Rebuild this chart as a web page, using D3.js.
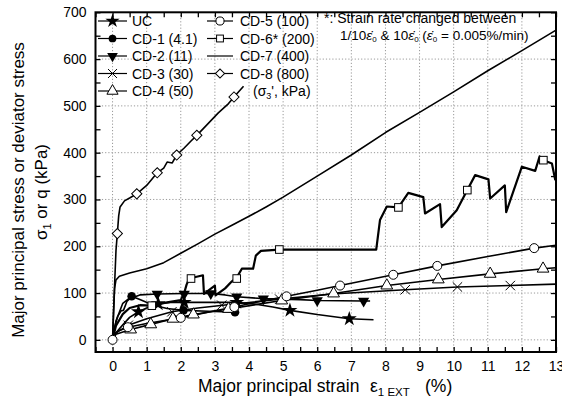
<!DOCTYPE html>
<html><head><meta charset="utf-8">
<script src="https://cdn.jsdelivr.net/npm/d3@7"></script>
<style>body{margin:0;background:#fff}svg{display:block}text{font-family:Arial,"Liberation Sans",sans-serif;fill:#000}</style>
</head><body><svg id="c" width="562" height="399"></svg>
<script>
const seriesNames = ["UC","CD-1 (4.1)","CD-2 (11)","CD-3 (30)","CD-4 (50)","CD-5 (100)","CD-6* (200)","CD-7 (400)","CD-8 (800)"];
const xTicks = [0,1,2,3,4,5,6,7,8,9,10,11,12,13];
const yTicks = [0,100,200,300,400,500,600,700];

const ucLine = [[0,0],[0.1,15],[0.3,32],[0.5,48],[0.76,60],[1.0,68],[1.34,77],[1.7,80],[2.1,80],[3.0,80],[3.64,80],[4.2,76],[4.7,70],[5.2,63],[6.0,54],[6.94,45],[7.65,43]];
const ucMk = [[0.76,60],[1.34,77],[2.1,80],[3.64,80],[5.2,63],[6.94,45]];
const cd1Line = [[0,0],[0.1,40],[0.3,78],[0.56,93],[0.8,86],[1.2,74],[1.6,67],[2.08,63],[2.8,61],[3.59,59],[3.7,60]];
const cd1Mk = [[0.56,93],[2.08,63],[3.59,59]];
const cd2Line = [[0,0],[0.05,25],[0.15,50],[0.25,62],[0.32,63],[0.42,82],[0.5,88],[0.8,96],[1.31,98],[2.1,99],[2.88,99],[3.3,96],[3.64,92],[4.42,88],[5.5,86],[6.0,84],[7.36,83],[7.55,83]];
const cd2Mk = [[1.31,98],[2.1,98],[2.88,99],[3.64,92],[4.42,88],[6.0,84],[7.36,83]];
const cd3Line = [[0,0],[0.1,15],[0.46,31],[1.0,45],[1.74,60],[2.5,68],[3.5,76],[4.9,87],[6.43,98],[8.58,107],[10.11,113],[11.66,116],[13,119]];
const cd3Mk = [[0.46,31],[1.74,60],[3.2,74],[4.9,87],[8.58,107],[10.11,113],[11.66,116]];
const cd4Line = [[0,0],[0.1,12],[0.53,22],[1.12,33],[1.77,45],[2.37,54],[3.4,66],[4.96,84],[6.48,99],[8.04,116],[9.55,129],[11.07,141],[12.62,152],[13,154]];
const cd4Mk = [[0.53,22],[1.12,33],[1.77,45],[2.37,54],[3.4,66],[4.96,84],[6.48,99],[8.04,116],[9.55,129],[11.07,141],[12.62,152]];
const cd5Line = [[0,0],[0.05,12],[0.2,20],[0.45,27],[1,35],[2,47],[3,62],[3.57,70],[4,77],[5.1,93],[6,106],[6.67,116],[8.23,139],[9.52,158],[11,178],[12.36,196],[13,202]];
const cd5Mk = [[0,0],[0.45,27],[2.0,47],[3.57,70],[5.1,93],[6.67,116],[8.23,139],[9.52,158],[12.36,196]];
const cd6Line = [[0,0],[0.1,30],[0.3,55],[0.5,68],[0.8,74],[1.15,73],[1.6,80],[2.0,85],[2.1,100],[2.17,118],[2.25,131],[2.65,138],[2.68,98],[3.0,116],[3.02,95],[3.3,110],[3.5,125],[3.64,133],[3.79,152],[4.12,152],[4.2,180],[4.35,190],[4.89,193],[7.73,193],[7.84,256],[8.04,285],[8.38,283],[8.67,314],[9.11,305],[9.16,270],[9.6,290],[9.65,241],[10.09,277],[10.4,320],[10.63,352],[11.02,343],[11.07,302],[11.5,330],[11.54,273],[12.0,370],[12.39,361],[12.52,392],[12.63,384],[12.88,377],[12.98,341]];
const cd6Mk = [[1.15,73],[2.3,131],[3.64,131],[4.89,193],[8.38,283],[10.4,320],[12.63,384]];
const cd7Line = [[0,0],[0.03,60],[0.06,110],[0.1,128],[0.2,136],[0.5,143],[1,152],[1.5,165],[2,185],[2.5,205],[3,226],[3.5,245],[4,264],[4.5,284],[5,305],[6,350],[7,395],[8,443],[9,486],[10,530],[11,575],[12,618],[13,662]];
const cd8Line = [[0,0],[0.05,100],[0.1,190],[0.14,227],[0.18,265],[0.22,284],[0.35,297],[0.5,303],[0.71,312],[1,330],[1.31,357],[1.5,367],[1.6,380],[1.75,378],[1.88,395],[2.1,410],[2.3,425],[2.47,437],[2.8,462],[3.1,485],[3.4,505],[3.56,519],[3.84,542]];
const cd8Mk = [[0.14,227],[0.71,312],[1.31,357],[1.88,395],[2.47,437],[3.56,519]];

const svg = d3.select("#c");
const x = d3.scaleLinear().domain([-0.5,13]).range([95.5,556]);
const y = d3.scaleLinear().domain([-26,700]).range([352,12.3]);
const X0=95.5,X1=556,Y0=352,Y1=12.3;

// grid
const g = svg.append("g");
g.selectAll(".gx").data(xTicks.filter(t=>t<13)).join("line")
  .attr("x1",d=>x(d)).attr("x2",d=>x(d)).attr("y1",Y0).attr("y2",Y1)
  .attr("stroke","#999").attr("stroke-width",1).attr("stroke-dasharray","1.2,2");
g.selectAll(".gy").data(yTicks.filter(t=>t<700)).join("line")
  .attr("y1",d=>y(d)).attr("y2",d=>y(d)).attr("x1",X0).attr("x2",X1)
  .attr("stroke","#999").attr("stroke-width",1).attr("stroke-dasharray","1.2,2");

// axes
const minorX = d3.range(-0.5,13.01,0.5);
const minorY = d3.range(0,701,50);
function styleAxis(sel){
  sel.select(".domain").remove();
  sel.selectAll("line").attr("stroke","#000").attr("stroke-width",1.3);
  sel.selectAll(".tick").filter(d=>!(xTicks.includes(d)||yTicks.includes(d))).select("text").remove();
  sel.selectAll("text").attr("font-size",14).attr("font-family","Arial, 'Liberation Sans', sans-serif");
}
svg.append("g").attr("transform",`translate(0,${Y0})`).call(d3.axisBottom(x).tickValues(minorX).tickSize(-5).tickFormat(d=>d).tickPadding(9)).call(styleAxis);
svg.append("g").attr("transform",`translate(0,${Y1})`).call(d3.axisTop(x).tickValues(minorX).tickSize(-5).tickFormat("")).call(styleAxis).call(s=>s.selectAll("text").remove());
svg.append("g").attr("transform",`translate(${X0},0)`).call(d3.axisLeft(y).tickValues(minorY).tickSize(-5).tickFormat(d=>d).tickPadding(9)).call(styleAxis);
svg.append("g").attr("transform",`translate(${X1},0)`).call(d3.axisRight(y).tickValues(minorY).tickSize(-5).tickFormat("")).call(styleAxis).call(s=>s.selectAll("text").remove());
svg.append("rect").attr("x",X0).attr("y",Y1).attr("width",X1-X0).attr("height",Y0-Y1).attr("fill","none").attr("stroke","#000").attr("stroke-width",2);

// lines
const line = d3.line().x(d=>x(d[0])).y(d=>y(d[1]));
const defs = [
 {l:ucLine,m:ucMk,sym:"star"},
 {l:cd1Line,m:cd1Mk,sym:"dot"},
 {l:cd2Line,m:cd2Mk,sym:"tri"},
 {l:cd3Line,m:cd3Mk,sym:"x"},
 {l:cd4Line,m:cd4Mk,sym:"triup"},
 {l:cd5Line,m:cd5Mk,sym:"circle"},
 {l:cd6Line,m:cd6Mk,sym:"square",w:2.2},
 {l:cd7Line,m:[],sym:null},
 {l:cd8Line,m:cd8Mk,sym:"diamond"}
];
function marker(sel,sym,scale){
  scale=scale||1;
  if(sym==="star") sel.append("path").attr("d",d3.symbol(d3.symbolStar,70*scale)).attr("fill","#000");
  else if(sym==="dot") sel.append("circle").attr("r",4.3*scale).attr("fill","#000");
  else if(sym==="tri") sel.append("path").attr("d",d3.symbol(d3.symbolTriangle,55*scale)).attr("transform","rotate(180)").attr("fill","#000");
  else if(sym==="x") sel.append("path").attr("d",d3.symbol(d3.symbolX,60*scale)).attr("fill","none").attr("stroke","#000").attr("stroke-width",1);
  else if(sym==="triup") sel.append("path").attr("d",d3.symbol(d3.symbolTriangle,60*scale)).attr("fill","#fff").attr("stroke","#000").attr("stroke-width",1);
  else if(sym==="circle") sel.append("circle").attr("r",4.5*scale).attr("fill","#fff").attr("stroke","#000").attr("stroke-width",1);
  else if(sym==="square") sel.append("rect").attr("x",-3.8*scale).attr("y",-3.8*scale).attr("width",7.6*scale).attr("height",7.6*scale).attr("fill","#fff").attr("stroke","#000").attr("stroke-width",1);
  else if(sym==="diamond") sel.append("rect").attr("x",-3.6*scale).attr("y",-3.6*scale).attr("width",7.2*scale).attr("height",7.2*scale).attr("transform","rotate(45)").attr("fill","#fff").attr("stroke","#000").attr("stroke-width",1);
}
const plot = svg.append("g");
defs.forEach(s=>{
  plot.append("path").attr("d",line(s.l)).attr("fill","none").attr("stroke","#000").attr("stroke-width",s.w||1.6).attr("stroke-linejoin","round");
});
defs.forEach(s=>{
  s.m.forEach(p=>{
    const gg=plot.append("g").attr("transform",`translate(${x(p[0])},${y(p[1])})`);
    marker(gg,s.sym);
  });
});

// legend
const lg = svg.append("g");
const rowY=[21,38.5,56,73.5,91];
seriesNames.forEach((n,i)=>{
  const col = i<5?0:1, r = i<5?i:i-5;
  const sx = col===0?98:207, len = col===0?29:26, tx = col===0?132:240;
  const ly = rowY[r];
  lg.append("line").attr("x1",sx).attr("x2",sx+len).attr("y1",ly).attr("y2",ly).attr("stroke","#000").attr("stroke-width",1.2);
  const mg = lg.append("g").attr("transform",`translate(${sx+len/2},${ly})`);
  marker(mg,defs[i].sym,0.9);
  lg.append("text").attr("x",tx).attr("y",ly+5).attr("font-size",14).text(n);
});
const lt = lg.append("text").attr("x",253).attr("y",rowY[4]+5).attr("font-size",14);
lt.append("tspan").text("(σ");
lt.append("tspan").attr("font-size",9).attr("dy",3).text("3");
lt.append("tspan").attr("dy",-3).text("', kPa)");

// annotation
svg.append("text").attr("x",324).attr("y",23).attr("font-size",14).text("*: Strain rate changed between");
const an = svg.append("text").attr("x",340).attr("y",40).attr("font-size",13.5).attr("font-family","'Liberation Serif','DejaVu Serif',serif");
an.append("tspan").text("1/10");
an.append("tspan").attr("font-style","italic").text("ε̇");
an.append("tspan").attr("font-size",8).attr("dy",2).text("0");
an.append("tspan").attr("dy",-2).attr("font-family","Arial, 'Liberation Sans', sans-serif").text(" & ");
an.append("tspan").text("10");
an.append("tspan").attr("font-style","italic").text("ε̇");
an.append("tspan").attr("font-size",8).attr("dy",2).text("0");
an.append("tspan").attr("dy",-2).text(" (");
an.append("tspan").attr("font-style","italic").text("ε̇");
an.append("tspan").attr("font-size",8).attr("dy",2).text("0");
an.append("tspan").attr("dy",-2).text(" = ");
an.append("tspan").attr("font-family","Arial, 'Liberation Sans', sans-serif").text("0.005%/min");
an.append("tspan").text(")");

// axis titles
const xt = svg.append("text").attr("x",198).attr("y",392).attr("font-size",17.5);
xt.append("tspan").text("Major principal strain");
xt.append("tspan").attr("x",370).text("ε");
xt.append("tspan").attr("font-size",11.5).attr("dy",4).text("1 EXT");
xt.append("tspan").attr("x",425).attr("dy",-4).text("(%)");

const yt1 = svg.append("text").attr("transform","translate(24,190) rotate(-90)").attr("text-anchor","middle").attr("font-size",17).text("Major principal stress or deviator stress");
const yt2 = svg.append("text").attr("transform","translate(47,192) rotate(-90)").attr("text-anchor","middle").attr("font-size",17);
yt2.append("tspan").text("σ");
yt2.append("tspan").attr("font-size",11).attr("dy",4).text("1");
yt2.append("tspan").attr("dy",-4).text(" or q (kPa)");
</script></body></html>
